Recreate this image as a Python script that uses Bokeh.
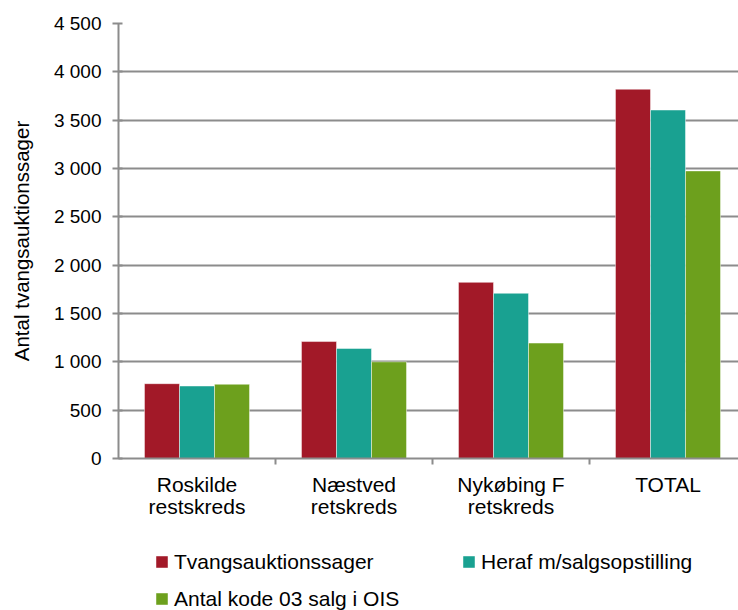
import numpy as np
from bokeh.plotting import figure
from bokeh.layouts import column
from bokeh.models import Range1d, FixedTicker, Legend, LegendItem
from bokeh.embed import file_html
from bokeh.resources import INLINE

# ---- data ----
categories = ["Roskilde\nrestskreds", "Næstved\nretskreds", "Nykøbing F\nretskreds", "TOTAL"]
series_names = ["Tvangsauktionssager", "Heraf m/salgsopstilling", "Antal kode 03 salg i OIS"]
tvangsauktionssager = [774, 1210, 1822, 3820]
heraf_salgsopstilling = [750, 1138, 1709, 3605]
antal_kode03_salg = [768, 1000, 1194, 2975]
y_ticks = [0, 500, 1000, 1500, 2000, 2500, 3000, 3500, 4000, 4500]
y_tick_labels = ["0", "500", "1 000", "1 500", "2 000", "2 500", "3 000", "3 500", "4 000", "4 500"]

series_values = [tvangsauktionssager, heraf_salgsopstilling, antal_kode03_salg]
colors = ["#A21928", "#19A191", "#6DA01D"]

FONT = "Liberation Sans"
GRID = "#8c8c8c"

W = 738
H_MAIN, H_LEG = 535, 75
LEFT, TOP = 118, 23
BOTTOM = H_MAIN - TOP - 435
cat_px = 157.0
frame_w = W - LEFT
bar_w = 0.223

p = figure(width=W, height=H_MAIN, output_backend="svg", toolbar_location=None,
           x_range=Range1d(0, frame_w / cat_px), y_range=Range1d(0, 4500),
           min_border_left=LEFT, min_border_right=0, min_border_top=TOP,
           min_border_bottom=BOTTOM)
p.outline_line_color = None
p.background_fill_color = "white"
p.border_fill_color = "white"

centers = np.arange(len(categories)) + 0.5
for i, (vals, col) in enumerate(zip(series_values, colors)):
    xs = centers + (i - 1) * bar_w
    p.vbar(x=xs, top=vals, width=bar_w, bottom=0, fill_color=col,
           line_color="white", line_alpha=0.45, line_width=1)

# x axis
xa = p.xaxis[0]
xa.ticker = FixedTicker(ticks=list(centers), minor_ticks=[1, 2, 3])
xa.major_label_overrides = {float(c): lab for c, lab in zip(centers, categories)}
xa.major_tick_out = 0
xa.major_tick_in = 0
xa.minor_tick_out = 6
xa.minor_tick_in = 0
xa.minor_tick_line_color = GRID
xa.minor_tick_line_width = 2
xa.axis_line_color = GRID
xa.axis_line_width = 2
xa.major_label_standoff = 8
xa.major_label_text_font = FONT
xa.major_label_text_font_size = "21px"
xa.major_label_text_color = "black"
xa.major_label_text_line_height = 0.97

# y axis
ya = p.yaxis[0]
ya.ticker = FixedTicker(ticks=y_ticks)
ya.major_label_overrides = {t: lab for t, lab in zip(y_ticks, y_tick_labels)}
ya.minor_tick_line_color = None
ya.major_tick_out = 6
ya.major_tick_in = 4
ya.major_tick_line_color = GRID
ya.major_tick_line_width = 2
ya.axis_line_color = GRID
ya.axis_line_width = 2
ya.major_label_standoff = 11
ya.major_label_text_font = FONT
ya.major_label_text_font_size = "19px"
ya.major_label_text_color = "black"
ya.axis_label = "Antal tvangsauktionssager"
ya.axis_label_text_font = FONT
ya.axis_label_text_font_size = "20.5px"
ya.axis_label_text_font_style = "normal"
ya.axis_label_text_color = "black"
ya.axis_label_standoff = 18

p.xgrid.grid_line_color = None
p.ygrid.grid_line_color = GRID
p.ygrid.grid_line_width = 2

# ---- legend figure (same series, drawn outside its visible range) ----
q = figure(width=W, height=H_LEG, output_backend="svg", toolbar_location=None,
           x_range=Range1d(0, frame_w / cat_px), y_range=Range1d(10000, 20000),
           x_axis_type=None, y_axis_type=None,
           min_border_left=0, min_border_right=0, min_border_top=0, min_border_bottom=0)
q.outline_line_color = None
q.xgrid.grid_line_color = None
q.ygrid.grid_line_color = None
q.background_fill_color = "white"
q.border_fill_color = "white"

leg_renderers = []
for i, (vals, col) in enumerate(zip(series_values, colors)):
    xs = centers + (i - 1) * bar_w
    r = q.vbar(x=xs, top=vals, width=bar_w, bottom=0, fill_color=col,
               line_color="white", line_alpha=0.45, line_width=1)
    leg_renderers.append(r)

legend = Legend(
    items=[LegendItem(label=n, renderers=[r]) for n, r in zip(series_names, leg_renderers)],
    location=(36, -7), orientation="horizontal", ncols=2,
    glyph_width=15, glyph_height=15, label_standoff=5,
    label_width=287, label_height=37, spacing=0, padding=0, margin=0,
    border_line_color=None, background_fill_alpha=0,
    label_text_font=FONT, label_text_font_size="21px", label_text_color="black",
)
q.add_layout(legend)

layout = column(p, q, spacing=0)
open("out.html", "w").write(file_html(layout, INLINE))
